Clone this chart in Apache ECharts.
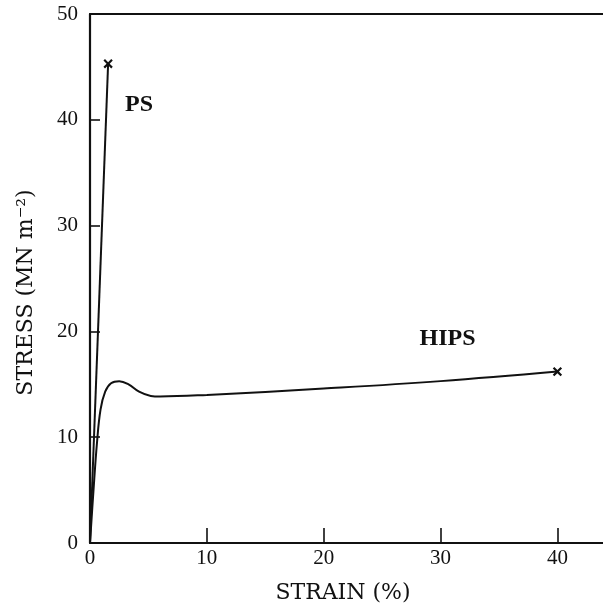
<!DOCTYPE html>
<html>
<head>
<meta charset="utf-8">
<script src="https://cdn.jsdelivr.net/npm/echarts@6/dist/echarts.min.js"></script>
<style>html,body{margin:0;padding:0;background:#fff}#c{width:603px;height:612px}</style>
</head>
<body>
<div id="c"></div>
<script>
const psX = [0, 1.55];
const psY = [0, 45.3];
const hipsX = [0, 0.3, 0.6, 0.9, 1.3, 1.8, 2.5, 3.3, 4.2, 5.2, 6.0, 10, 20, 30, 40];
const hipsY = [0, 5, 9.5, 12.6, 14.3, 15.1, 15.3, 15.0, 14.3, 13.9, 13.85, 14.0, 14.6, 15.3, 16.2];
const psEnd = [[1.55, 45.3]];
const hipsEnd = [[40, 16.2]];
const yTicks = [0, 10, 20, 30, 40, 50];
const xTicks = [0, 10, 20, 30, 40];
const labels = [{text: 'PS', x: 4.2, y: 41.4}, {text: 'HIPS', x: 30.6, y: 19.3}];

const font = 'Liberation Serif';
const titleFont = 'DejaVu Serif';
const ink = '#111';
const cross = 'path://M4,0H6V4H10V6H6V10H4V6H0V4H4Z';
const chart = echarts.init(document.getElementById('c'));
chart.setOption({
  animation: false,
  backgroundColor: '#fff',
  grid: {left: 90, top: 14, width: 520, height: 529, outerBoundsMode: 'none', containLabel: false},
  xAxis: [{
    type: 'value', min: 0, max: 44.5, interval: 10,
    name: 'STRAIN (%)', nameLocation: 'middle', nameGap: 39,
    nameTextStyle: {fontFamily: titleFont, fontSize: 22, color: ink, padding: [0, 14, 0, 0]},
    axisLine: {lineStyle: {color: ink, width: 2.2}},
    axisTick: {inside: true, length: 15, lineStyle: {color: ink, width: 1.6}},
    axisLabel: {fontFamily: font, fontSize: 21, color: ink, margin: 5,
      formatter: v => xTicks.includes(v) ? String(v) : ''},
    splitLine: {show: false}
  }, {
    type: 'value', min: 0, max: 44.5, position: 'top',
    axisLine: {show: true, lineStyle: {color: ink, width: 2.2}},
    axisTick: {show: false}, axisLabel: {show: false}, splitLine: {show: false}
  }],
  yAxis: {
    type: 'value', min: 0, max: 50, interval: 10,
    name: 'STRESS (MN m⁻²)', nameLocation: 'middle', nameGap: 53, nameRotate: 90,
    nameTextStyle: {fontFamily: titleFont, fontSize: 22, color: ink, padding: [0, 28, 0, 0]},
    axisLine: {lineStyle: {color: ink, width: 2.2}},
    axisTick: {inside: true, length: 10, lineStyle: {color: ink, width: 1.6}},
    axisLabel: {fontFamily: font, fontSize: 21, color: ink, margin: 12,
      formatter: v => yTicks.includes(v) ? String(v) : ''},
    splitLine: {show: false}
  },
  series: [
    {type: 'line', data: psX.map((x, i) => [x, psY[i]]), showSymbol: false,
      lineStyle: {color: ink, width: 2}},
    {type: 'line', data: hipsX.map((x, i) => [x, hipsY[i]]), showSymbol: false, smooth: 0.4,
      lineStyle: {color: ink, width: 2}},
    {type: 'scatter', data: psEnd.concat(hipsEnd), symbol: cross, symbolSize: 11, symbolRotate: 45,
      itemStyle: {color: ink, opacity: 1}},
    {type: 'scatter', data: labels.map(l => ({value: [l.x, l.y], label: {formatter: l.text}})),
      symbolSize: 0, itemStyle: {opacity: 1},
      label: {show: true, position: 'inside', fontFamily: font, fontWeight: 'bold', fontSize: 24, color: ink, opacity: 1}}
  ]
});
</script>
</body>
</html>
